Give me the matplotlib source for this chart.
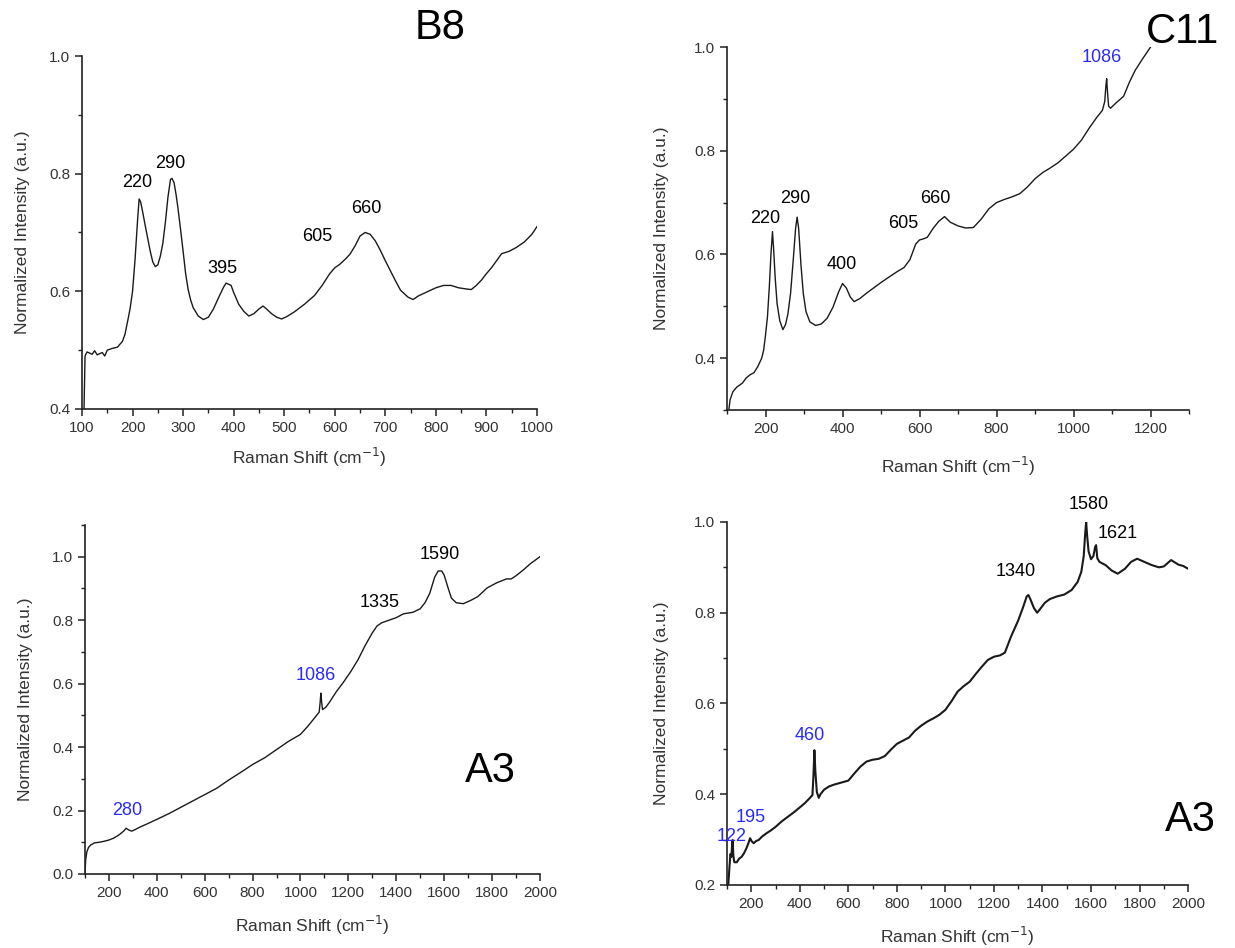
import matplotlib
matplotlib.use("Agg")
import matplotlib.pyplot as plt
from matplotlib.ticker import MultipleLocator

plt.rcParams['font.family'] = ['Liberation Sans', 'DejaVu Sans']

# ---- data ----
# B8
b8_x = [104, 106, 110, 120, 125, 130, 140, 145, 150, 160, 170, 180, 185, 190, 195, 200, 205,
        210, 213, 216, 220, 225, 230, 235, 240, 245, 250, 255, 260, 265, 270, 275, 278, 282,
        286, 290, 295, 300, 305, 310, 315, 320, 330, 340, 350, 360, 370, 380, 385, 390, 395,
        400, 410, 420, 430, 440, 450, 458, 465, 475, 485, 495, 505, 520, 540, 560, 575, 590,
        600, 610, 620, 630, 640, 650, 660, 670, 680, 690, 700, 710, 720, 730, 745, 755, 765,
        780, 800, 815, 830, 845, 860, 870, 880, 890, 900, 910, 920, 930, 945, 960, 975, 990,
        1000]
b8_y = [0.400, 0.490, 0.497, 0.493, 0.499, 0.492, 0.496, 0.490, 0.500, 0.503, 0.505, 0.515,
        0.527, 0.548, 0.570, 0.600, 0.655, 0.722, 0.757, 0.752, 0.735, 0.712, 0.690, 0.668,
        0.650, 0.642, 0.645, 0.660, 0.682, 0.718, 0.760, 0.790, 0.792, 0.785, 0.765, 0.740,
        0.705, 0.668, 0.630, 0.603, 0.585, 0.572, 0.558, 0.552, 0.556, 0.570, 0.589, 0.607,
        0.614, 0.612, 0.610, 0.598, 0.578, 0.566, 0.558, 0.562, 0.570, 0.575, 0.570, 0.562,
        0.556, 0.553, 0.557, 0.565, 0.578, 0.593, 0.610, 0.630, 0.640, 0.646, 0.654, 0.663,
        0.677, 0.694, 0.700, 0.697, 0.686, 0.670, 0.652, 0.635, 0.618, 0.602, 0.590, 0.586,
        0.592, 0.598, 0.606, 0.610, 0.610, 0.606, 0.604, 0.603, 0.610, 0.619, 0.630, 0.640,
        0.652, 0.664, 0.668, 0.675, 0.684, 0.697, 0.710]

# C11
c11_x = [105, 108, 115, 125, 140, 150, 160, 170, 180, 190, 195, 200, 205, 210, 214, 218, 221,
         225, 230, 237, 245, 252, 258, 265, 272, 278, 282, 286, 292, 298, 305, 315, 330, 345,
         360, 375, 390, 400, 410, 420, 430, 445, 460, 480, 500, 520, 540, 560, 575, 590, 600,
         610, 620, 635, 650, 665, 680, 700, 720, 740, 760, 780, 800, 820, 840, 860, 880, 900,
         920, 940, 960, 980, 1000, 1020, 1040, 1060, 1075, 1081, 1084, 1086, 1088, 1091, 1096,
         1110, 1130, 1145, 1160, 1180, 1200]
c11_y = [0.302, 0.320, 0.335, 0.344, 0.352, 0.362, 0.368, 0.372, 0.384, 0.400, 0.415, 0.445,
         0.480, 0.540, 0.600, 0.644, 0.610, 0.555, 0.505, 0.472, 0.455, 0.465, 0.485, 0.525,
         0.590, 0.650, 0.672, 0.650, 0.580, 0.525, 0.490, 0.470, 0.463, 0.466, 0.477, 0.498,
         0.528, 0.544, 0.535, 0.518, 0.509, 0.515, 0.524, 0.535, 0.546, 0.556, 0.566, 0.575,
         0.590, 0.620, 0.628, 0.630, 0.633, 0.650, 0.664, 0.673, 0.662, 0.655, 0.651, 0.652,
         0.668, 0.688, 0.700, 0.706, 0.711, 0.717, 0.730, 0.746, 0.758, 0.767, 0.777, 0.790,
         0.803, 0.820, 0.843, 0.864, 0.878, 0.895, 0.925, 0.939, 0.915, 0.886, 0.882, 0.892,
         0.905, 0.932, 0.955, 0.978, 1.000]

# A3 (left, 0-1.1)
a3l_x = [100, 103, 108, 115, 125, 140, 160, 180, 200, 220, 240, 260, 272, 282, 295, 310, 330,
         360, 400, 450, 500, 550, 600, 650, 700, 750, 800, 850, 900, 950, 1000, 1030, 1060,
         1078, 1082, 1085, 1088, 1092, 1105, 1120, 1150, 1180, 1210, 1240, 1270, 1300, 1320,
         1340, 1370, 1400, 1430, 1470, 1500, 1520, 1540, 1560, 1575, 1590, 1600, 1615, 1630,
         1650, 1680, 1710, 1740, 1780, 1820, 1860, 1880, 1900, 1930, 1960, 2000]
a3l_y = [0.000, 0.045, 0.070, 0.084, 0.092, 0.098, 0.100, 0.103, 0.107, 0.113, 0.122, 0.134,
         0.144, 0.139, 0.135, 0.140, 0.148, 0.158, 0.172, 0.190, 0.210, 0.230, 0.250, 0.270,
         0.296, 0.320, 0.345, 0.366, 0.392, 0.418, 0.440, 0.465, 0.493, 0.510, 0.540, 0.570,
         0.545, 0.518, 0.525, 0.540, 0.575, 0.605, 0.638, 0.675, 0.720, 0.760, 0.782, 0.792,
         0.800, 0.808, 0.820, 0.825, 0.836, 0.855, 0.885, 0.935, 0.955, 0.955, 0.942, 0.905,
         0.870, 0.855, 0.852, 0.862, 0.874, 0.902, 0.918, 0.930, 0.930, 0.940, 0.958, 0.978,
         1.000]

# A3 (right, 0.2-1.0)
a3r_x = [105, 110, 114, 118, 121, 123, 126, 130, 140, 150, 160, 170, 180, 188, 195, 202, 210,
         220, 230, 245, 260, 280, 300, 325, 350, 375, 400, 420, 440, 452, 456, 460, 464, 470,
         478, 485, 500, 520, 540, 560, 580, 600, 625, 650, 675, 700, 725, 750, 775, 800, 825,
         850, 875, 900, 925, 950, 975, 1000, 1025, 1050, 1075, 1100, 1125, 1150, 1175, 1200,
         1225, 1245, 1270, 1300, 1320, 1335, 1342, 1350, 1365, 1378, 1390, 1410, 1430, 1460,
         1490, 1520, 1545, 1560, 1570, 1576, 1580, 1584, 1590, 1600, 1610, 1617, 1621, 1626,
         1635, 1660, 1685, 1710, 1740, 1765, 1790, 1820, 1850, 1880, 1900, 1930, 1960, 1980,
         2000]
a3r_y = [0.200, 0.240, 0.268, 0.262, 0.290, 0.299, 0.265, 0.250, 0.250, 0.258, 0.262, 0.270,
         0.281, 0.292, 0.303, 0.296, 0.292, 0.297, 0.299, 0.307, 0.313, 0.320, 0.328, 0.340,
         0.350, 0.360, 0.371, 0.380, 0.391, 0.398, 0.440, 0.497, 0.450, 0.405, 0.392, 0.400,
         0.410, 0.417, 0.421, 0.424, 0.427, 0.430, 0.446, 0.461, 0.472, 0.476, 0.478, 0.484,
         0.498, 0.511, 0.518, 0.525, 0.540, 0.551, 0.560, 0.567, 0.575, 0.586, 0.605, 0.626,
         0.638, 0.648, 0.665, 0.681, 0.696, 0.703, 0.706, 0.712, 0.747, 0.783, 0.812, 0.836,
         0.839, 0.830, 0.810, 0.800, 0.808, 0.822, 0.830, 0.836, 0.840, 0.850, 0.868, 0.890,
         0.925, 0.975, 1.000, 0.970, 0.935, 0.918, 0.925, 0.945, 0.949, 0.920, 0.912, 0.905,
         0.893, 0.886, 0.897, 0.912, 0.919, 0.912, 0.905, 0.900, 0.902, 0.916, 0.906, 0.903,
         0.897]

# peak labels: (text, x, y, colour)
BLUE = '#2a2aff'
b8_labels = [('220', 210, 0.785, 'k'), ('290', 274, 0.818, 'k'), ('395', 378, 0.639, 'k'),
             ('605', 566, 0.694, 'k'), ('660', 662, 0.741, 'k')]
c11_labels = [('220', 200, 0.669, 'k'), ('290', 278, 0.707, 'k'), ('400', 397, 0.580, 'k'),
              ('605', 558, 0.660, 'k'), ('660', 642, 0.708, 'k'), ('1086', 1072, 0.979, BLUE)]
a3l_labels = [('280', 275, 0.200, BLUE), ('1086', 1064, 0.627, BLUE), ('1335', 1330, 0.857, 'k'),
              ('1590', 1580, 1.008, 'k')]
a3r_labels = [('122', 117, 0.306, BLUE), ('195', 197, 0.349, BLUE), ('460', 439, 0.530, BLUE),
              ('1340', 1290, 0.890, 'k'), ('1580', 1590, 1.039, 'k'), ('1621', 1711, 0.974, 'k')]

fig = plt.figure(figsize=(12.35, 9.48), dpi=100)

panels = [
    # rect, x, y, labels, xlim, ylim, x major, x minor, name, name pos, ylabelpad, xlabelpad, lw
    ([0.0664, 0.5686, 0.3684, 0.3723], b8_x, b8_y, b8_labels, (100, 1000), (0.4, 1.0), 100, 50,
     'B8', (0.787, 1.079), 14, 8, 1.0),
    ([0.5887, 0.5675, 0.3741, 0.3829], c11_x, c11_y, c11_labels, (100, 1300), (0.3, 1.0), 200, 100,
     'C11', (0.985, 1.041), 18, 14, 1.0),
    ([0.0688, 0.0781, 0.3684, 0.3681], a3l_x, a3l_y, a3l_labels, (100, 2000), (0.0, 1.1), 200, 100,
     'A3', (0.89, 0.295), 14, 10, 1.0),
    ([0.5887, 0.0665, 0.3733, 0.3829], a3r_x, a3r_y, a3r_labels, (100, 2000), (0.2, 1.0), 200, 100,
     'A3', (1.004, 0.179), 18, 10, 1.5),
]

for rect, xs, ys, labels, xlim, ylim, xmaj, xmin, name, npos, ypad, xpad, lw in panels:
    ax = fig.add_axes(rect)
    ax.plot(xs, ys, color='#1a1a1a', lw=lw)
    ax.set_xlim(*xlim)
    ax.set_ylim(*ylim)
    ax.xaxis.set_major_locator(MultipleLocator(xmaj))
    ax.xaxis.set_minor_locator(MultipleLocator(xmin))
    ax.yaxis.set_major_locator(MultipleLocator(0.2))
    ax.yaxis.set_minor_locator(MultipleLocator(0.1))
    ax.yaxis.set_major_formatter(plt.FuncFormatter(lambda v, p: f'{v:.1f}'))
    for s in ('top', 'right'):
        ax.spines[s].set_visible(False)
    for s in ('left', 'bottom'):
        ax.spines[s].set_linewidth(1.2)
        ax.spines[s].set_color('#222222')
    ax.tick_params(which='major', direction='out', length=5, width=1.1, labelsize=11,
                   colors='#222222', labelcolor='#333333')
    ax.tick_params(which='minor', direction='out', length=3, width=1.0, colors='#222222')
    ax.set_xlabel('Raman Shift (cm$^{-1}$)', fontsize=12.5, color='#333333', labelpad=xpad)
    ax.set_ylabel('Normalized Intensity (a.u.)', fontsize=12.5, color='#333333', labelpad=ypad)
    for txt, lx, ly, col in labels:
        ax.text(lx, ly, txt, fontsize=13, color=col, ha='center', va='center')
    ax.text(npos[0], npos[1], name, fontsize=30, ha='center', va='center',
            transform=ax.transAxes, clip_on=False)

fig.savefig('out.png', dpi=100)
